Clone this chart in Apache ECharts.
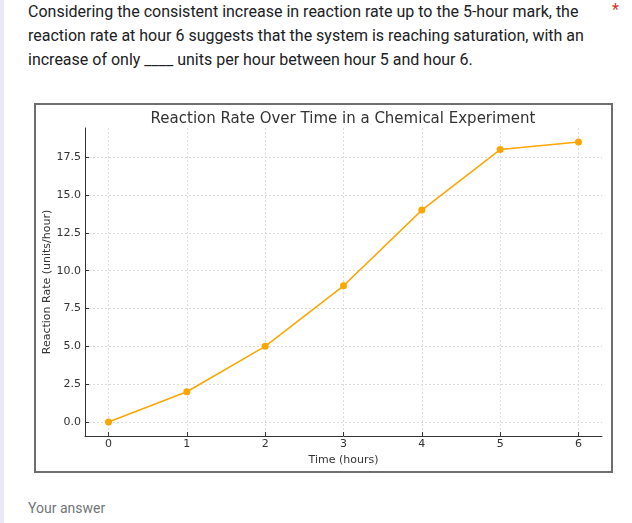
<!DOCTYPE html>
<html>
<head>
<meta charset="utf-8">
<script src="https://cdn.jsdelivr.net/npm/echarts@6/dist/echarts.min.js"></script>
<style>
  html, body { margin: 0; padding: 0; background: #fff; width: 632px; height: 523px; overflow: hidden; position: relative; }
  #strip { position: absolute; left: 0; top: 0; width: 4px; height: 523px; background: #ebe7f6; }
  #q { position: absolute; left: 28px; top: 0px; font-family: Roboto, sans-serif; font-size: 16px; line-height: 24px; color: #202124; white-space: nowrap; }
  #star { position: absolute; left: 612px; top: 0px; font-family: Roboto, sans-serif; font-size: 16px; color: #d93025; }
  #frame { position: absolute; left: 34px; top: 103px; width: 575px; height: 366px; border: 2px solid #6e6e6e; }
  #chart { width: 575px; height: 366px; }
  #ans { position: absolute; left: 28px; top: 500px; font-family: Roboto, sans-serif; font-size: 14px; color: #70757a; }
</style>
</head>
<body>
<div id="strip"></div>
<div id="q">Considering the consistent increase in reaction rate up to the 5-hour mark, the<br>reaction rate at hour 6 suggests that the system is reaching saturation, with an<br>increase of only ____ units per hour between hour 5 and hour 6.</div>
<div id="star">*</div>
<div id="frame"><div id="chart"></div></div>
<div id="ans">Your answer</div>
<script>
const hours = [0, 1, 2, 3, 4, 5, 6];
const reactionRate = [0, 2, 5, 9, 14, 18, 18.5];
const yTicks = [0, 2.5, 5, 7.5, 10, 12.5, 15, 17.5];
const titleText = 'Reaction Rate Over Time in a Chemical Experiment';
const xName = 'Time (hours)';
const yName = 'Reaction Rate (units/hour)';

const xPad = 0.05 * (Math.max(...hours) - Math.min(...hours));
const yPad = 0.05 * (Math.max(...reactionRate) - Math.min(...reactionRate));
const font = 'DejaVu Sans';
const chart = echarts.init(document.getElementById('chart'), null, { renderer: 'canvas' });
chart.setOption({
  animation: false,
  backgroundColor: '#fff',
  title: {
    text: titleText,
    left: 302,
    textAlign: 'center',
    top: 2,
    textStyle: { fontFamily: font, fontSize: 15, fontWeight: 'normal', color: '#333' }
  },
  grid: { left: 49, right: 9, top: 23, bottom: 35, containLabel: false, outerBoundsMode: 'none' },
  xAxis: {
    type: 'value',
    min: Math.min(...hours) - xPad,
    max: Math.max(...hours) + xPad,
    name: xName,
    nameLocation: 'middle',
    nameGap: 19,
    nameMoveOverlap: false,
    nameTextStyle: { fontFamily: font, fontSize: 11, color: '#333' },
    axisLine: { show: true, onZero: false, lineStyle: { color: '#333', width: 1 } },
    axisTick: { show: true, inside: true, length: 4, customValues: hours, lineStyle: { color: '#333' } },
    axisLabel: { customValues: hours, margin: 3, fontFamily: font, fontSize: 11, color: '#333' },
    splitLine: { show: true, lineStyle: { color: '#d5d5d5', type: [2, 2], width: 0.8 } }
  },
  yAxis: {
    type: 'value',
    min: Math.min(...reactionRate) - yPad,
    max: Math.max(...reactionRate) + yPad,
    name: yName,
    nameLocation: 'middle',
    nameGap: 32,
    nameMoveOverlap: false,
    nameTextStyle: { fontFamily: font, fontSize: 11, color: '#333' },
    axisLine: { show: true, onZero: false, lineStyle: { color: '#333', width: 1 } },
    axisTick: { show: true, inside: true, length: 4, customValues: yTicks, lineStyle: { color: '#333' } },
    axisLabel: { customValues: yTicks, margin: 4, fontFamily: font, fontSize: 11, color: '#333', formatter: v => v.toFixed(1) },
    splitLine: { show: true, lineStyle: { color: '#d5d5d5', type: [2, 2], width: 0.8 } }
  },
  series: [{
    type: 'line',
    data: hours.map((h, i) => [h, reactionRate[i]]),
    color: '#FFA500',
    lineStyle: { width: 1.5, color: '#FFA500' },
    symbol: 'circle',
    symbolSize: 7,
    itemStyle: { color: '#FFA500' }
  }]
});
</script>
</body>
</html>
